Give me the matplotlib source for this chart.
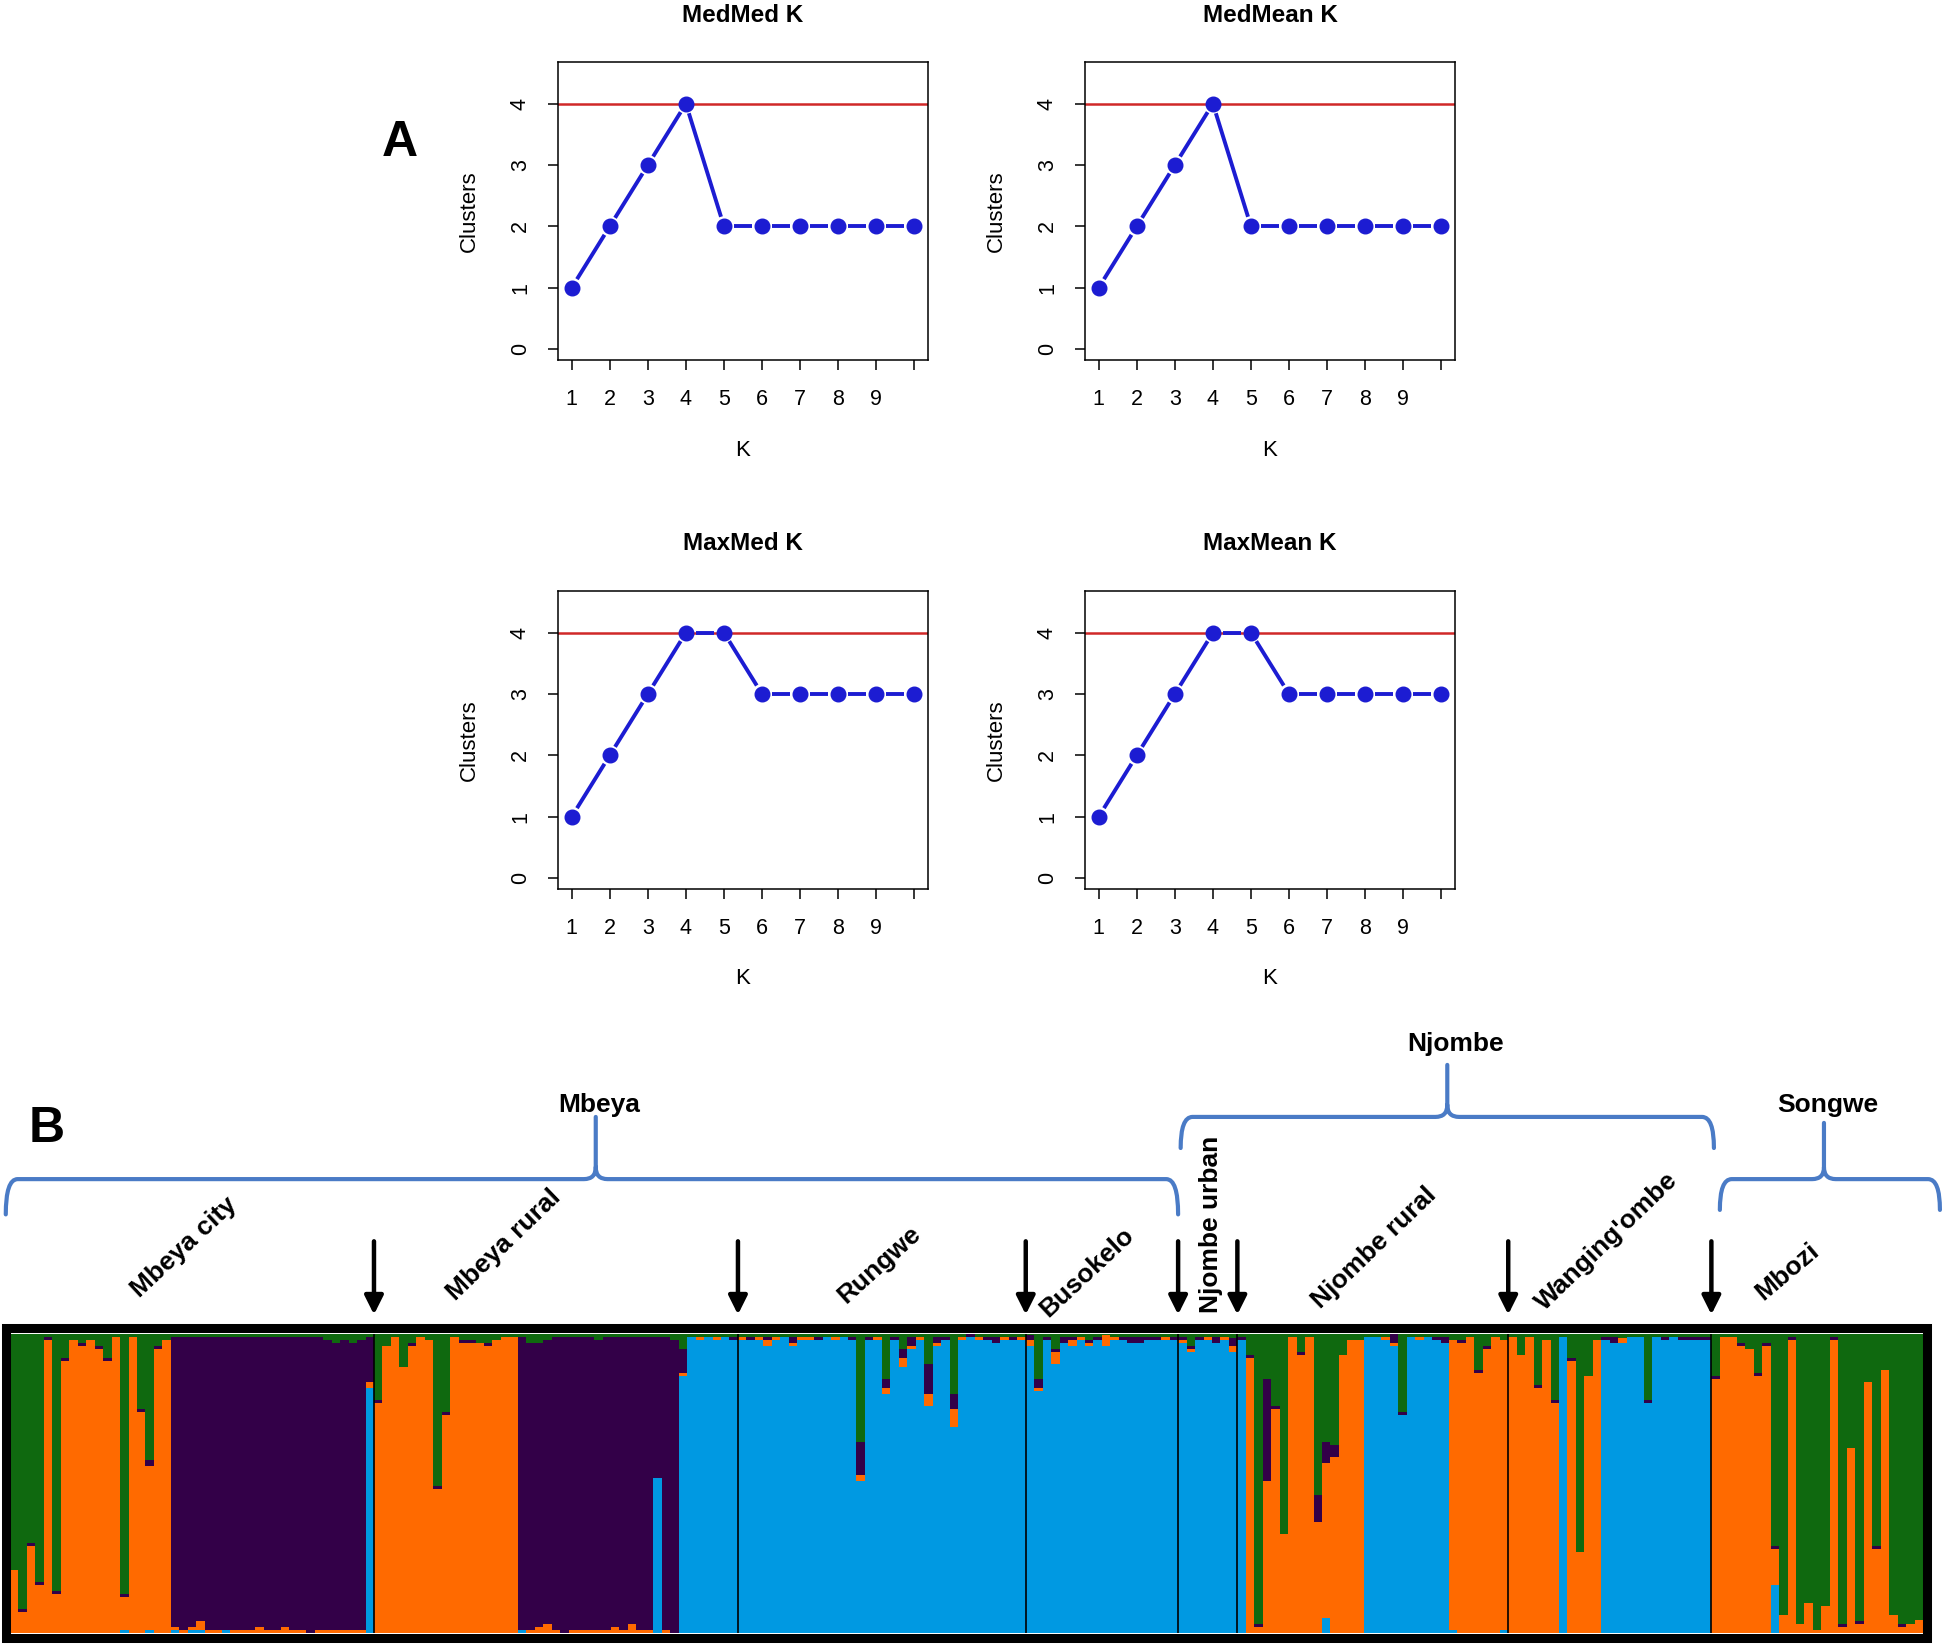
import numpy as np
import matplotlib
matplotlib.use('Agg')
import matplotlib.pyplot as plt
import matplotlib.transforms as mtransforms
from matplotlib.patches import Rectangle, PathPatch
from matplotlib.path import Path

plt.rcParams['font.family'] = ['Liberation Sans', 'DejaVu Sans']

W, H = 1946, 1648

# ---- panel A data ----
k_values = [1, 2, 3, 4, 5, 6, 7, 8, 9, 10]
k_labels = ['1', '2', '3', '4', '5', '6', '7', '8', '9', '']
panel_titles = ['MedMed K', 'MedMean K', 'MaxMed K', 'MaxMean K']
medmed = [1, 2, 3, 4, 2, 2, 2, 2, 2, 2]
medmean = [1, 2, 3, 4, 2, 2, 2, 2, 2, 2]
maxmed = [1, 2, 3, 4, 4, 3, 3, 3, 3, 3]
maxmean = [1, 2, 3, 4, 4, 3, 3, 3, 3, 3]
true_k = 4

# ---- panel B data: (blue, orange, purple) per individual, green is the rest ----
mbeya_city = [
    (0, .21, 0), (0, .07, .01), (0, .29, .01), (0, .16, .01), (0, .98, .01),
    (0, .13, .01), (0, .91, .01), (0, .98, 0), (0, .96, .01), (0, .98, 0),
    (0, .95, .01), (0, .91, .01), (0, .99, 0), (.01, .11, .01), (0, .99, 0),
    (0, .74, .01), (.01, .55, .02), (0, .95, .01), (0, .98, 0),
    (.01, .01, .97), (0, .01, .98), (.01, .01, .97), (.01, .03, .95), (0, .01, .98),
    (0, .01, .98), (.01, 0, .98), (0, .01, .98), (0, .01, .98), (0, .01, .98),
    (0, .02, .97), (0, .01, .98), (0, .01, .98), (0, .02, .97), (0, .01, .98),
    (0, .01, .98), (0, 0, .99), (0, .01, .98), (0, .01, .97), (0, .01, .96),
    (0, .01, .97), (0, .01, .96), (0, .01, .97), (.82, .02, .15),
]
mbeya_rural = [
    (0, .77, .01), (0, .96, 0), (0, .99, 0), (0, .89, 0), (0, .96, .01),
    (0, .99, 0), (0, .98, 0), (0, .48, .01), (0, .73, .01), (0, .99, 0),
    (0, .97, .01), (0, .97, .01), (0, .97, 0), (0, .96, .01), (0, .98, 0),
    (0, .99, 0), (0, .99, 0),
    (.01, 0, .98), (0, .01, .96), (0, .02, .95), (0, .03, .95), (0, .01, .98),
    (0, 0, .99), (0, .01, .98), (0, .01, .98), (0, .01, .98), (0, .01, .97),
    (0, .01, .98), (0, .02, .97), (0, .01, .98), (0, .03, .96), (0, .01, .98),
    (0, .01, .98), (.52, 0, .47), (0, .01, .98), (0, 0, .98),
    (.86, .01, .08), (.99, 0, 0), (.98, .01, 0), (.99, 0, 0), (.98, .01, 0),
    (.99, 0, 0), (.98, 0, .01),
]
rungwe = [
    (.98, .01, 0), (.98, 0, .01), (.98, .01, 0), (.96, .02, .01), (.98, .01, 0),
    (.99, 0, 0), (.96, .01, .02), (.98, .01, 0), (.98, .01, 0), (.98, 0, .01),
    (.99, 0, 0), (.98, .01, 0), (.99, 0, 0), (.98, 0, .01), (.51, .02, .11),
    (.98, 0, .01), (.98, .01, 0), (.80, .02, .03), (.98, 0, .01), (.89, .03, .03),
    (.95, .01, .03), (.98, .01, 0), (.76, .04, .10), (.96, .01, .02), (.98, 0, .01),
    (.69, .06, .05), (.98, .01, 0), (.99, 0, .01), (.98, .01, 0), (.98, 0, .01),
    (.97, 0, .02), (.98, .01, 0), (.98, 0, .01), (.98, .01, 0),
]
busokelo = [
    (.96, .02, .015), (.81, .01, .03), (.98, 0, .01), (.90, .04, .01), (.97, 0, .02),
    (.96, .02, .01), (.98, .01, 0), (.96, .01, .01), (.98, 0, .01), (.96, .035, 0),
    (.98, .01, 0), (.98, 0, .01), (.97, 0, .02), (.97, 0, .02), (.98, 0, .01),
    (.98, 0, .01), (.98, .01, 0), (.98, 0, .01),
]
njombe_urban = [
    (.97, .01, .01), (.94, .01, .01), (.98, 0, .01), (.98, .01, 0), (.97, 0, .02),
    (.98, .01, 0), (.94, .02, .025),
]
njombe_rural = [
    (.98, 0, .01), (0, .92, .01), (0, .02, .01), (0, .51, .34), (0, .75, .01),
    (0, .33, 0), (0, .99, 0), (0, .93, .01), (0, .99, 0), (0, .37, .09),
    (.05, .52, .07), (0, .59, .04), (0, .93, 0), (0, .98, 0), (0, .98, 0),
    (.99, 0, 0), (.99, 0, 0), (.98, .01, 0), (.96, .01, .03), (.73, 0, .01),
    (.99, 0, 0), (.98, .01, 0), (.99, 0, 0), (.98, 0, .01), (.97, 0, .02),
    (.01, .97, 0), (0, .97, .01), (0, .99, 0), (0, .87, .01), (0, .95, .01),
    (0, .99, 0), (.01, .97, 0),
]
wangingombe = [
    (0, .99, 0), (0, .93, 0), (0, .99, 0), (0, .82, .01), (0, .98, 0),
    (0, .77, .01), (.99, 0, 0), (0, .91, .01), (0, .27, 0), (0, .86, 0),
    (0, .98, 0), (.98, 0, .01), (.97, 0, .02), (.97, .015, 0), (.99, 0, 0),
    (.99, 0, 0), (.77, 0, .01), (.99, 0, 0), (.98, 0, .01), (.99, 0, 0),
    (.98, 0, .01), (.98, 0, .01), (.98, 0, .01), (.98, 0, .01),
]
mbozi = [
    (0, .85, .01), (0, .99, 0), (0, .99, 0), (0, .96, .01), (0, .95, 0),
    (0, .86, .01), (0, .96, .01), (.16, .12, .01), (0, .06, 0), (0, .98, .01),
    (0, .03, 0), (0, .10, 0), (0, .01, 0), (0, .09, 0), (0, .98, .01),
    (0, .02, .01), (0, .62, 0), (0, .03, .01), (0, .84, 0), (0, .28, .01),
    (0, .88, 0), (0, .06, 0), (0, .02, .01), (0, .03, 0), (0, .045, 0),
]
groups = [mbeya_city, mbeya_rural, rungwe, busokelo, njombe_urban,
          njombe_rural, wangingombe, mbozi]
group_names = ['Mbeya city', 'Mbeya rural', 'Rungwe', 'Busokelo', 'Njombe urban',
               'Njombe rural', "Wanging'ombe", 'Mbozi']

c_blue, c_orange, c_purple, c_green = '#0099E2', '#FF6A00', '#330048', '#0F690F'
line_blue = '#1C1CD2'
brace_col = '#4A7BC6'


def fbox(left, top, w, h):
    return [left / W, 1 - (top + h) / H, w / W, h / H]


def gapped_line(ax, x, y, gap, **kw):
    # R type="b": segments stop short of the points
    pts = ax.transData.transform(np.column_stack([x, y]))
    inv = ax.transData.inverted()
    for p, q in zip(pts[:-1], pts[1:]):
        d = q - p
        L = np.hypot(d[0], d[1])
        if L <= 2 * gap:
            continue
        u = d / L
        a = inv.transform(p + u * gap)
        b = inv.transform(q - u * gap)
        ax.plot([a[0], b[0]], [a[1], b[1]], color=line_blue, lw=2.8,
                solid_capstyle='butt', zorder=3)


fig = plt.figure(figsize=(W / 100, H / 100), dpi=100)

# ---- A ----
series = [medmed, medmean, maxmed, maxmean]
lefts = [558, 1085, 558, 1085]
tops = [62, 62, 591, 591]
for i in range(4):
    ax = fig.add_axes(fbox(lefts[i], tops[i], 370, 298))
    ax.set_xlim(0.64, 10.36)
    ax.set_ylim(-0.18, 4.68)
    ax.axhline(true_k, color='#D02828', lw=1.8, zorder=2)
    gapped_line(ax, k_values, series[i], 10)
    ax.plot(k_values, series[i], 'o', color=line_blue, ms=10.5, zorder=4)
    ax.set_xticks(k_values)
    ax.set_xticklabels(k_labels)
    ax.set_yticks([0, 1, 2, 3, 4])
    ax.tick_params(direction='out', length=7, width=1.1, labelsize=15.5)
    ax.tick_params(axis='x', pad=14)
    ax.tick_params(axis='y', labelrotation=90, pad=12.5)
    for lab in ax.get_yticklabels():
        lab.set_va('center')
    for s in ax.spines.values():
        s.set_linewidth(1.1)
    ax.text(0.5, 1 + 47 / 298, panel_titles[i], transform=ax.transAxes,
            ha='center', va='center', fontsize=17.5, fontweight='bold')
    ax.text(0.5, -90 / 298, 'K', transform=ax.transAxes, ha='center',
            va='center', fontsize=16)
    ax.text(-89 / 370, 0.5, 'Clusters', transform=ax.transAxes, ha='center',
            va='center', fontsize=16, rotation=90)

fig.text(400 / W, 1 - 143 / H, 'A', fontsize=36, fontweight='bold',
         ha='center', va='center')

# ---- B ----
data = np.array([b for g in groups for b in g], dtype=float)
n = len(data)
blue, orange, purple = data[:, 0], data[:, 1], data[:, 2]
green = 1 - blue - orange - purple
x = np.arange(n)

axb = fig.add_axes(fbox(10, 1334, 1913, 299))
axb.set_xlim(0, n)
axb.set_ylim(0, 1)
bottom = np.zeros(n)
for vals, col in [(blue, c_blue), (orange, c_orange), (purple, c_purple), (green, c_green)]:
    axb.bar(x, vals, width=1.0, bottom=bottom, align='edge', color=col,
            linewidth=0, antialiased=False)
    bottom = bottom + vals
axb.axis('off')

bounds = np.cumsum([len(g) for g in groups])[:-1]
for b in bounds:
    axb.axvline(b, color='black', lw=1.2)

fig.patches.append(Rectangle((6 / W, 1 - 1638 / H), 1921 / W, 310 / H,
                             transform=fig.transFigure, fill=False,
                             ec='black', lw=6.5))

trans = mtransforms.blended_transform_factory(axb.transData, axb.transAxes)
for b in bounds:
    axb.annotate('', xy=(b, 1.065), xytext=(b, 1.31), xycoords=trans,
                 textcoords=trans,
                 arrowprops=dict(arrowstyle='-|>', color='black', lw=3.2,
                                 mutation_scale=28, shrinkA=0, shrinkB=0))


def brace(x0, x1, xm, y_line, y_end, y_peak):
    rx = 1.4
    ry = 0.04
    verts = [(x0, y_end), (x0, y_line), (x0 + rx, y_line),
             (xm - rx, y_line), (xm, y_line), (xm, y_line + ry),
             (xm, y_peak),
             (xm, y_line + ry), (xm, y_line), (xm + rx, y_line),
             (x1 - rx, y_line), (x1, y_line), (x1, y_end)]
    codes = [Path.MOVETO, Path.CURVE3, Path.CURVE3,
             Path.LINETO, Path.CURVE3, Path.CURVE3,
             Path.LINETO,
             Path.MOVETO, Path.CURVE3, Path.CURVE3,
             Path.LINETO, Path.CURVE3, Path.CURVE3]
    axb.add_patch(PathPatch(Path(verts, codes), transform=trans, fill=False,
                            ec=brace_col, lw=3, clip_on=False,
                            capstyle='round', joinstyle='round'))


brace(-0.5, bounds[3], 69.2, 1.518, 1.40, 1.726)
brace(bounds[3] + 0.3, bounds[6] + 0.3, 169.8, 1.726, 1.622, 1.90)
brace(bounds[6] + 1.0, n + 2.0, 214.3, 1.518, 1.415, 1.706)

fig.text(47 / W, 1 - 1129 / H, 'B', fontsize=36, fontweight='bold',
         ha='center', va='center')
for name, px, py in [('Mbeya', 599, 1105), ('Njombe', 1456, 1044), ('Songwe', 1828, 1105)]:
    fig.text(px / W, 1 - py / H, name, fontsize=19, fontweight='bold',
             ha='center', va='center')

sub_pos = [(184, 1247, 43), (504, 1245, 44), (879, 1265, 42), (1087, 1272, 43),
           (1211, 1224, 90), (1374, 1248, 44), (1607, 1241, 44), (1787, 1272, 40)]
for name, (px, py, rot) in zip(group_names, sub_pos):
    fig.text(px / W, 1 - py / H, name, fontsize=19, fontweight='bold',
             ha='center', va='center', rotation=rot, rotation_mode='anchor')

fig.savefig('out.png', dpi=100, facecolor='white')
